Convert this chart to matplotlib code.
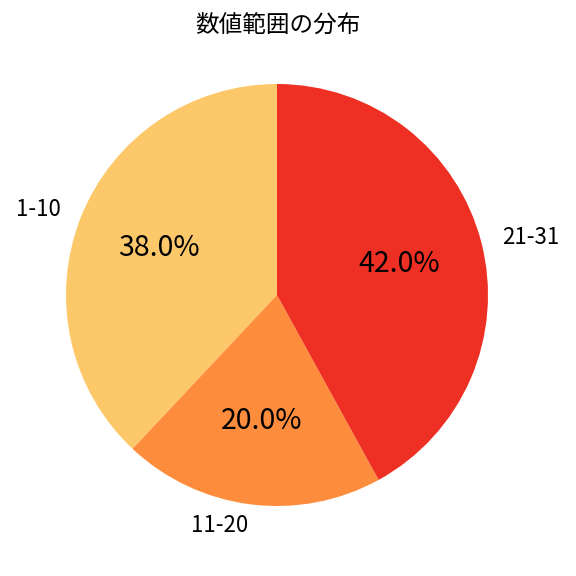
import matplotlib
matplotlib.use('Agg')
import matplotlib.pyplot as plt

plt.rcParams['font.family'] = ['Noto Sans CJK JP', 'DejaVu Sans']

labels = ['1-10', '11-20', '21-31']
values = [38.0, 20.0, 42.0]
colors = ['#FDC869', '#FD8D3C', '#EE3024']

fig = plt.figure(figsize=(5.76, 5.76), dpi=100)
ax = fig.add_axes([13.25 / 576, 17.25 / 576, 527.5 / 576, 527.5 / 576])

wedges, texts, autotexts = ax.pie(values, labels=labels, colors=colors,
                                  autopct='%1.1f%%', startangle=90,
                                  textprops={'fontsize': 16})
for t in autotexts:
    t.set_fontsize(20.5)
ax.set_aspect('equal')

fig.text(0.482, 0.955, '数値範囲の分布', ha='center', va='center', fontsize=17)

fig.savefig('out.png', dpi=100)
